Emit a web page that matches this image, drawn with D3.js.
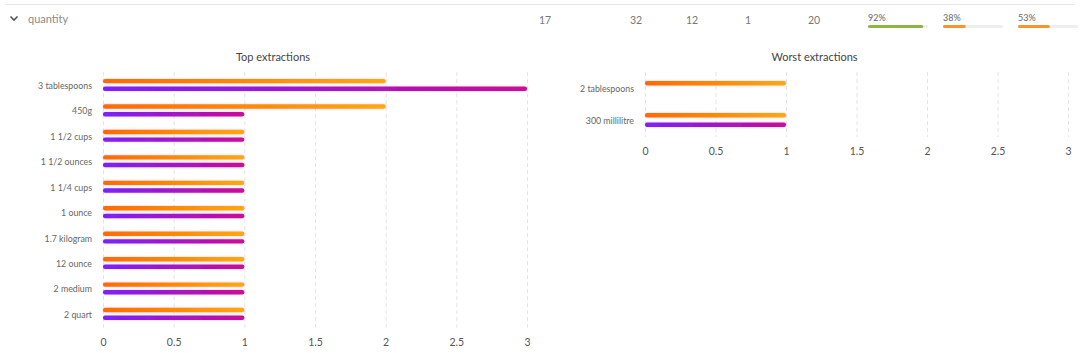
<!DOCTYPE html>
<html><head><meta charset="utf-8">
<script src="https://cdn.jsdelivr.net/npm/d3@7"></script>
<style>
html,body{margin:0;padding:0;background:#fff;}
svg{display:block;font-family:Lato,"Open Sans",sans-serif;}
</style></head>
<body>
<svg id="c" width="1085" height="353"></svg>
<script>
// ---- data ----
const headerLabel = "quantity";
const headerNumbers = ["17", "32", "12", "1", "20"];
const progressValues = [92, 38, 53];
const progressColors = ["#8db53f", "#f7952b", "#f7952b"];

const topCategories = ["3 tablespoons","450g","1 1/2 cups","1 1/2 ounces","1 1/4 cups","1 ounce","1.7 kilogram","12 ounce","2 medium","2 quart"];
const topSeriesA = [2,2,1,1,1,1,1,1,1,1];
const topSeriesB = [3,1,1,1,1,1,1,1,1,1];

const worstCategories = ["2 tablespoons","300 millilitre"];
const worstSeriesA = [1,1];
const worstSeriesB = [0,1];

const xTicks = [0,0.5,1,1.5,2,2.5,3];

// ---- drawing ----
const svg = d3.select("#c");
const defs = svg.append("defs");
function grad(id, c1, c2){
  const g = defs.append("linearGradient").attr("id", id).attr("x1","0%").attr("x2","100%").attr("y1","0").attr("y2","0");
  g.append("stop").attr("offset","0%").attr("stop-color",c1);
  g.append("stop").attr("offset","100%").attr("stop-color",c2);
}
grad("gA","#ff6a00","#ffa80a");
grad("gB","#7a22fa","#cc0a98");
const f = defs.append("filter").attr("id","sh").attr("x","-5%").attr("y","-100%").attr("width","110%").attr("height","300%");
f.append("feDropShadow").attr("dx",0).attr("dy",0).attr("stdDeviation",0.8).attr("flood-color","#c06090").attr("flood-opacity",0.35);

// header
svg.append("line").attr("x1",5).attr("x2",1075).attr("y1",4.5).attr("y2",4.5).attr("stroke","#e6e6e6");
svg.append("path").attr("d","M10.5,16.5 L14,20 L17.5,16.5").attr("fill","none").attr("stroke","#555").attr("stroke-width",1.6);
svg.append("text").attr("x",28).attr("y",23).attr("font-size",11).attr("fill","#8a8a8a").text(headerLabel);
const numX = d3.scaleOrdinal().domain(headerNumbers.map((d,i)=>i)).range([545,636,692,748,814]);
svg.selectAll("text.hn").data(headerNumbers).join("text").attr("class","hn")
  .attr("x",(d,i)=>numX(i)).attr("y",24).attr("text-anchor","middle").attr("font-size",10.5).attr("fill","#777").text(d=>d);
const pX = [868,943,1018];
const pW = d3.scaleLinear().domain([0,100]).range([0,60]);
progressValues.forEach((v,i)=>{
  svg.append("text").attr("x",pX[i]).attr("y",21).attr("font-size",9).attr("fill","#666").text(v+"%");
  svg.append("rect").attr("x",pX[i]).attr("y",25).attr("width",pW(100)).attr("height",3).attr("rx",1.5).attr("fill","#eeeeee");
  svg.append("rect").attr("x",pX[i]).attr("y",25).attr("width",pW(v)).attr("height",3).attr("rx",1.5).attr("fill",progressColors[i]);
});

function chart(o){
  const g = svg.append("g");
  const x = d3.scaleLinear().domain([0,3]).range([o.x0,o.x1]);
  const y = d3.scaleBand().domain(o.cats).range([o.y0,o.y1]).paddingInner(0.4).paddingOuter(0.2);
  const inner = d3.scalePoint().domain(["A","B"]).range([0,y.bandwidth()]).padding(0.5);
  g.append("text").attr("x",(o.x0+o.x1)/2 - o.titleShift).attr("y",61).attr("text-anchor","middle")
    .attr("font-size",11).attr("fill","#444").text(o.title);
  g.selectAll("line.grid").data(xTicks).join("line").attr("class","grid")
    .attr("x1",d=>x(d)+0.5).attr("x2",d=>x(d)+0.5).attr("y1",o.y0).attr("y2",o.y1+1)
    .attr("stroke","#e4e4e4").attr("stroke-dasharray","4,3");
  const ax = g.append("g").attr("transform",`translate(0,${o.axisY})`)
    .call(d3.axisBottom(x).tickValues(xTicks).tickFormat(d3.format("")).tickSize(0).tickPadding(0));
  ax.select(".domain").remove();
  ax.selectAll("text").attr("font-size",10.5).attr("fill","#555").attr("font-family","Lato,'Open Sans',sans-serif");
  g.selectAll("text.cat").data(o.cats).join("text").attr("class","cat")
    .attr("x",o.x0-11).attr("y",d=>y(d)+y.bandwidth()/2+4).attr("text-anchor","end")
    .attr("font-size",8.8).attr("fill","#666").text(d=>d);
  const series = [["A",o.a,"url(#gA)"],["B",o.b,"url(#gB)"]];
  series.forEach(([k,vals,fill])=>{
    g.selectAll("rect.bar"+k).data(o.cats.map((c,i)=>({c,v:vals[i]})).filter(d=>d.v>0)).join("rect")
      .attr("class","bar"+k)
      .attr("x",x(0)).attr("y",d=>y(d.c)+inner(k)-2.2)
      .attr("width",d=>x(d.v)-x(0)).attr("height",4.4).attr("rx",2)
      .attr("fill",fill).attr("filter","url(#sh)");
  });
}
chart({cats:topCategories,a:topSeriesA,b:topSeriesB,x0:103,x1:527,y0:72.2,y1:326.6,axisY:339,title:"Top extractions",titleShift:42});
chart({cats:worstCategories,a:worstSeriesA,b:worstSeriesB,x0:645,x1:1068,y0:72,y1:136,axisY:148,title:"Worst extractions",titleShift:42});
</script>
</body></html>
